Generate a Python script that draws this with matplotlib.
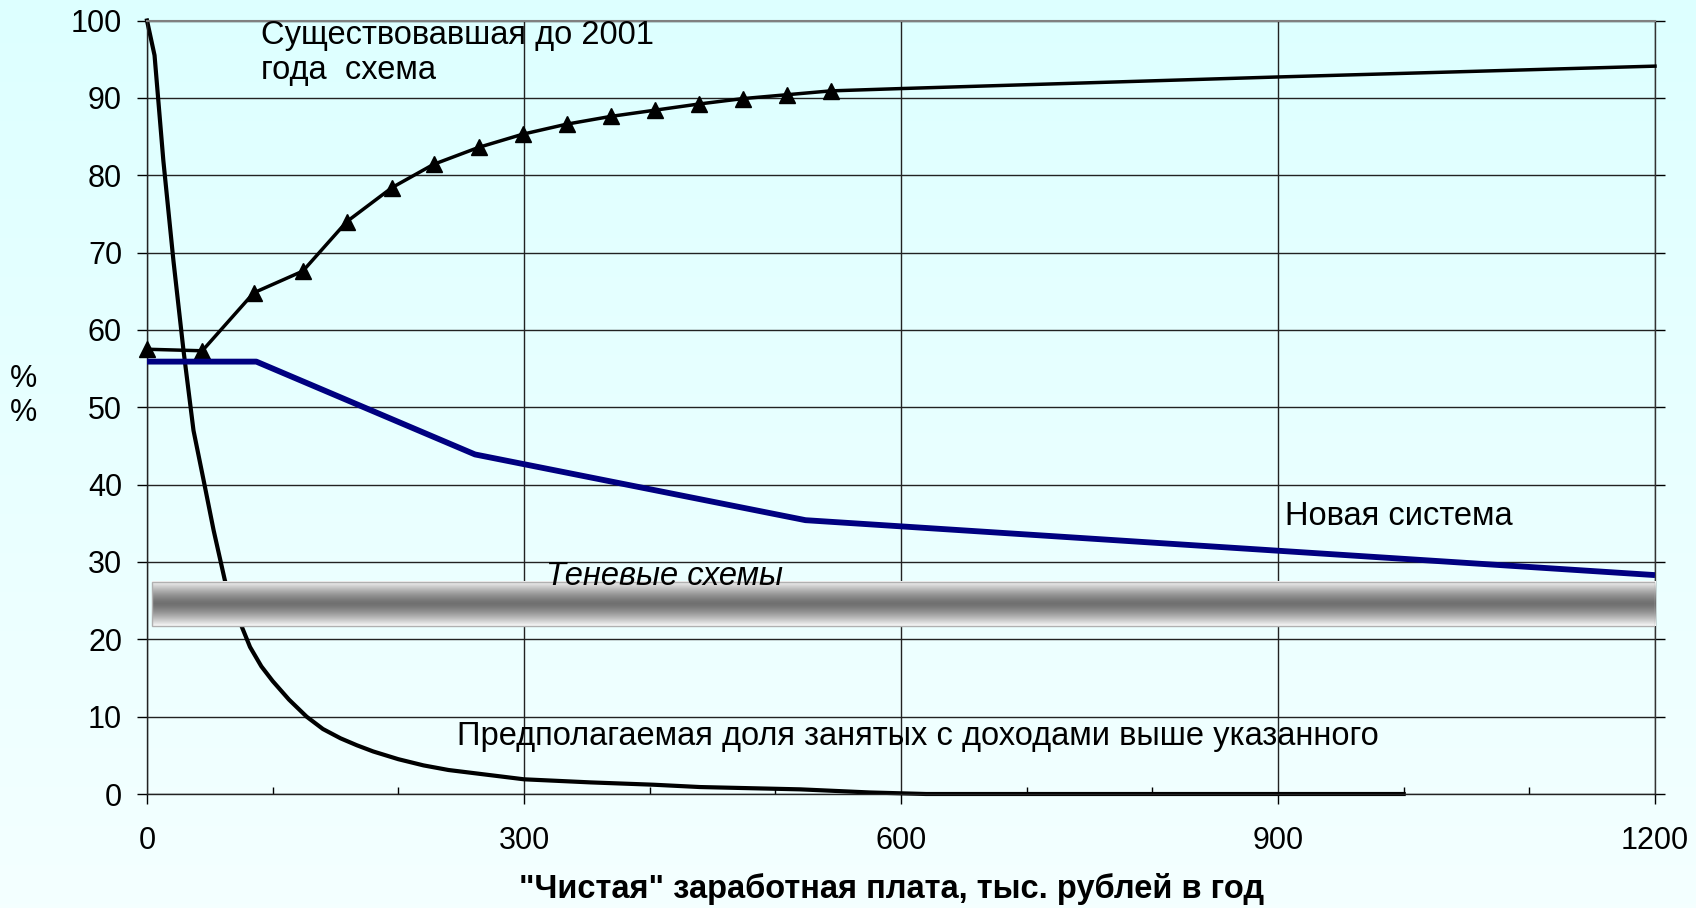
import numpy as np
import matplotlib
matplotlib.use("Agg")
import matplotlib.pyplot as plt
from matplotlib.patches import Rectangle
from matplotlib.ticker import MultipleLocator

plt.rcParams["font.family"] = ["Liberation Sans", "DejaVu Sans"]

# old scheme (before 2001), markers on the first 16 points
old_x = [0, 44, 85, 124, 159, 195, 228, 264, 299, 334, 369, 404, 439, 474, 509, 544, 600, 900, 1200]
old_y = [57.5, 57.3, 64.8, 67.6, 74.0, 78.4, 81.4, 83.6, 85.3, 86.6, 87.6, 88.4, 89.2, 89.9, 90.4, 90.9,
         91.2, 92.7, 94.1]
n_marked = 16

# new system
new_x = [0, 87, 261, 524, 1200]
new_y = [55.9, 55.9, 43.9, 35.4, 28.3]

# share of employed with income above given level
share_x = [0, 6, 13, 21, 29, 37, 45, 53, 62, 72, 82, 91, 100, 113, 127, 140, 154, 167, 180, 200, 220,
           240, 260, 280, 300, 353, 403, 440, 520, 575, 620, 1000]
share_y = [100, 95.5, 81.9, 69.0, 57.4, 47.0, 40.6, 34.1, 27.6, 23.0, 19.0, 16.5, 14.6, 12.2, 10.0, 8.4,
           7.2, 6.3, 5.5, 4.5, 3.7, 3.1, 2.7, 2.3, 1.9, 1.5, 1.2, 0.9, 0.6, 0.2, 0.0, 0.0]

# shadow schemes band
band_x = [3.7, 1200]
band_y = [21.7, 27.4]

fig = plt.figure(figsize=(16.96, 9.08), dpi=100)

# background gradient (light cyan -> almost white)
bg = fig.add_axes([0, 0, 1, 1], zorder=-10)
grad = np.linspace(0, 1, 256).reshape(-1, 1)
c_top = np.array([221, 255, 255]) / 255
c_bot = np.array([244, 255, 255]) / 255
bg_img = c_top + (c_bot - c_top) * grad[:, :, None]
bg.imshow(bg_img, aspect="auto", extent=[0, 1, 0, 1])
bg.set_axis_off()

ax = fig.add_axes([147 / 1696, 1 - 794 / 908, (1655 - 147) / 1696, (794 - 20.5) / 908])
ax.set_facecolor("none")

ax.xaxis.set_major_locator(MultipleLocator(300))
ax.xaxis.set_minor_locator(MultipleLocator(100))
ax.yaxis.set_major_locator(MultipleLocator(10))
ax.grid(True, which="major", color="#222222", lw=1.0, zorder=0)

ax.tick_params(axis="x", which="major", direction="out", length=7, width=1, pad=16, labelsize=22)
ax.tick_params(axis="x", which="minor", direction="in", length=5, width=1)
ax.tick_params(axis="y", which="major", direction="out", length=7, width=1, pad=11, labelsize=22,
               right=True)

for s in ["left", "bottom"]:
    ax.spines[s].set_color("#222222")
    ax.spines[s].set_linewidth(1.0)
ax.spines["top"].set_color("#808080")
ax.spines["top"].set_linewidth(1.5)
ax.spines["right"].set_color("#333333")
ax.spines["right"].set_linewidth(1.0)

ax.plot(share_x, share_y, color="black", lw=3.0, zorder=2, clip_on=False)
ax.plot(old_x, old_y, color="black", lw=2.5, marker="^", markersize=11,
        markevery=list(range(n_marked)), zorder=4, clip_on=False)
ax.plot(new_x, new_y, color="#000080", lw=4.2, zorder=4, solid_capstyle="butt")

# gradient band
t = np.linspace(0, 1, 200)
shade = np.abs(2 * t - 1) ** 1.4
light, dark = 0.98, 0.44
vals = dark + (light - dark) * shade
band_img = np.repeat(vals[:, None, None], 3, axis=2)
ax.imshow(band_img, aspect="auto", extent=[band_x[0], band_x[1], band_y[0], band_y[1]],
          zorder=3, interpolation="bilinear")
ax.add_patch(Rectangle((band_x[0], band_y[0]), band_x[1] - band_x[0], band_y[1] - band_y[0],
                       fill=False, edgecolor="#b0b0b0", lw=1, zorder=3))
ax.set_xlim(0, 1200)
ax.set_ylim(0, 100)

ax.text(90.5, 98.0, "Существовавшая до 2001", fontsize=23.5, va="center", ha="left", zorder=5)
ax.text(90.5, 93.6, "года  схема", fontsize=23.5, va="center", ha="left", zorder=5)
ax.text(905.6, 35.9, "Новая система", fontsize=23.5, va="center", ha="left", zorder=5)
ax.text(317.6, 28.1, "Теневые схемы", fontsize=23.5, style="italic", va="center", ha="left", zorder=5)
ax.text(246.3, 7.4, "Предполагаемая доля занятых с доходами выше указанного", fontsize=23.5,
        va="center", ha="left", zorder=5)

fig.text(0.014, 1 - 378.6 / 908, "%", fontsize=22, ha="center", va="center")
fig.text(0.014, 1 - 413.2 / 908, "%", fontsize=22, ha="center", va="center")
fig.text(892 / 1696, 1 - 889 / 908, '"Чистая" заработная плата, тыс. рублей в год', fontsize=23.5,
         fontweight="bold", ha="center", va="center")

fig.savefig("out.png", dpi=100)
